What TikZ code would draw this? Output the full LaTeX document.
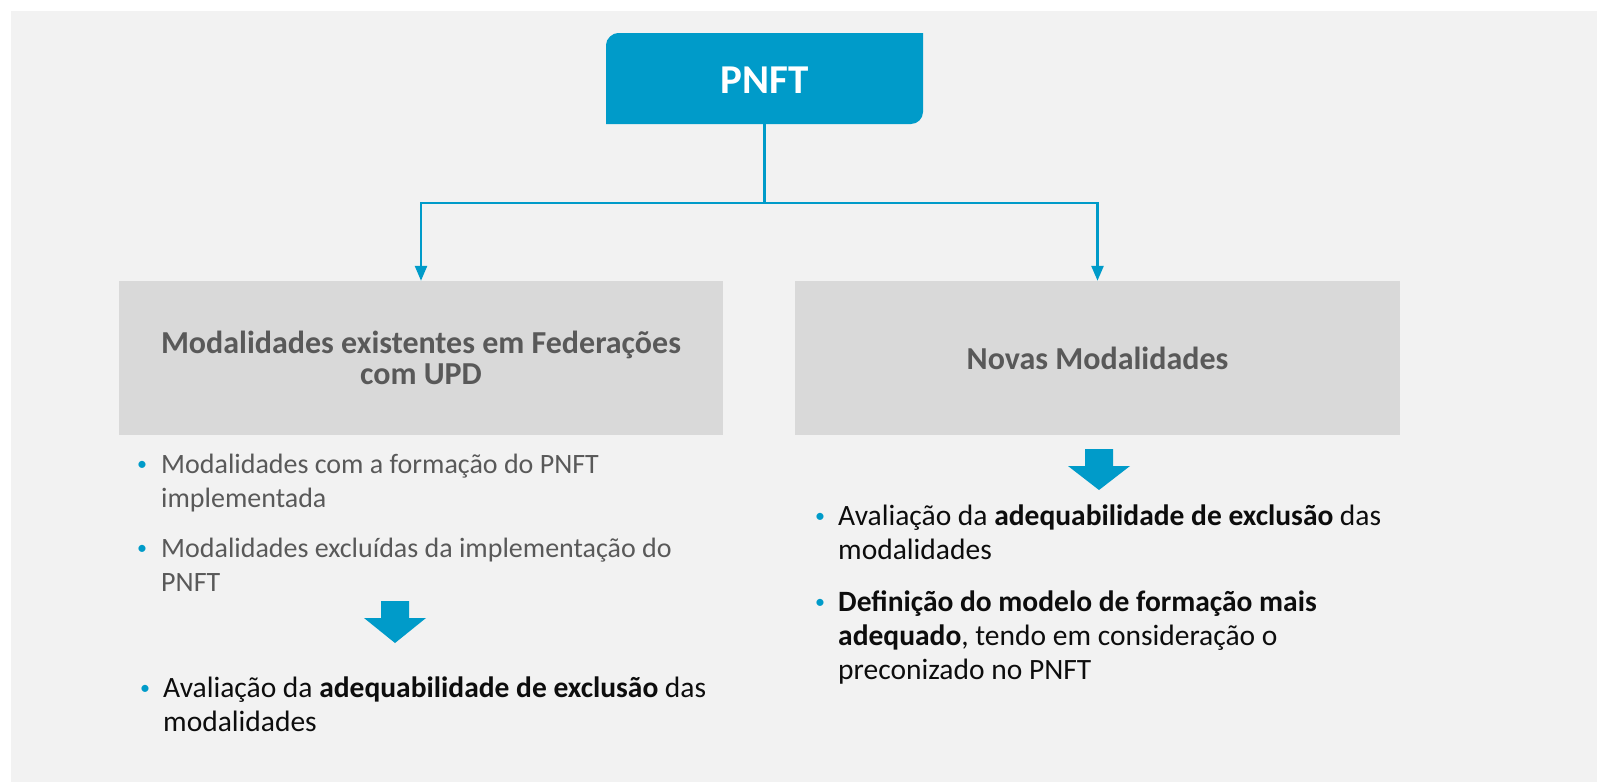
\documentclass[tikz,border=0pt]{standalone}
\usepackage{fontspec}
\setmainfont{Carlito}
\usetikzlibrary{arrows.meta}
\definecolor{bgray}{HTML}{F2F2F2}
\definecolor{boxgray}{HTML}{D9D9D9}
\definecolor{pblue}{HTML}{009BC9}
\definecolor{tgray}{HTML}{595959}
\definecolor{tblack}{HTML}{0D0D0D}
\tikzset{
  titlebox/.style={fill=boxgray, inner sep=0pt, align=center, text=tgray,
    font=\fontsize{32}{31}\selectfont\bfseries},
  bultext/.style={inner sep=0pt, anchor=north west, align=left,
    font=\fontsize{28}{34}\selectfont},
  bultextb/.style={bultext, font=\fontsize{29.5}{34}\selectfont},
  bulmark/.style={inner sep=0pt, anchor=base, text=pblue, font=\fontsize{20}{20}\selectfont},
  conn/.style={draw=pblue, line width=2.5pt},
  connarrow/.style={conn, -{Triangle[width=12pt,length=15pt]}},
}
\begin{document}
\begin{tikzpicture}[x=1pt,y=-1pt]
\useasboundingbox (0,0) rectangle (1597,782);
\fill[white] (0,0) rectangle (1597,782);
\fill[bgray] (11,11) rectangle (1597,782);
% PNFT box
\fill[pblue] (606,124) -- (606,45) .. controls (606,38.4) and (612.6,33) .. (618,33)
  -- (923,33) -- (923,112) .. controls (923,118.6) and (917.4,124) .. (911,124) -- cycle;
\node[inner sep=0pt, minimum width=317pt, minimum height=91pt, text=white,
  font=\fontsize{41}{41}\selectfont\bfseries] (pnft) at (764.5,80) {PNFT};
% boxes
\node[titlebox, minimum width=604pt, minimum height=154pt] (lbox) at (421,358)
  {Modalidades existentes em Federações\\com UPD};
\node[titlebox, minimum width=605pt, minimum height=154pt] (rbox) at (1097.5,358)
  {Novas Modalidades};
% connectors
\coordinate (j) at (764.5,203);
\draw[conn] (764.5,124) -- (j);
\draw[connarrow] (j) -| (lbox.north);
\draw[connarrow] (j) -| (rbox.north);
% block arrows
\fill[pblue] (381,601) -- (409,601) -- (409,618) -- (426,618) -- (395,643) -- (364,618) -- (381,618) -- cycle;
\fill[pblue] (1085,449) -- (1113,449) -- (1113,466) -- (1130,466) -- (1099,490) -- (1068,466) -- (1085,466) -- cycle;
% left bullets
\node[bulmark] (lm1) at (142,470) {•};
\node[bultext, text=tgray] (lt1) at (161,449.2) {\strut Modalidades com a formação do PNFT\\implementada};
\node[bulmark] (lm2) at (142,554) {•};
\node[bultext, text=tgray] (lt2) at (161,533.2) {\strut Modalidades excluídas da implementação do\\PNFT};
\node[bulmark] (lm3) at (145,694) {•};
\node[bultextb, text=tblack] (lt3) at (163,673.2) {\strut Avaliação da \textbf{adequabilidade de exclusão} das\\modalidades};
% right bullets
\node[bulmark] (rm1) at (820,522) {•};
\node[bultextb, text=tblack] (rt1) at (838,501.2) {\strut Avaliação da \textbf{adequabilidade de exclusão} das\\modalidades};
\node[bulmark] (rm2) at (820,608) {•};
\node[bultextb, text=tblack] (rt2) at (838,587.2) {\strut\textbf{Definição do modelo de formação mais}\\\textbf{adequado}, tendo em consideração o\\preconizado no PNFT};
\end{tikzpicture}
\end{document}
